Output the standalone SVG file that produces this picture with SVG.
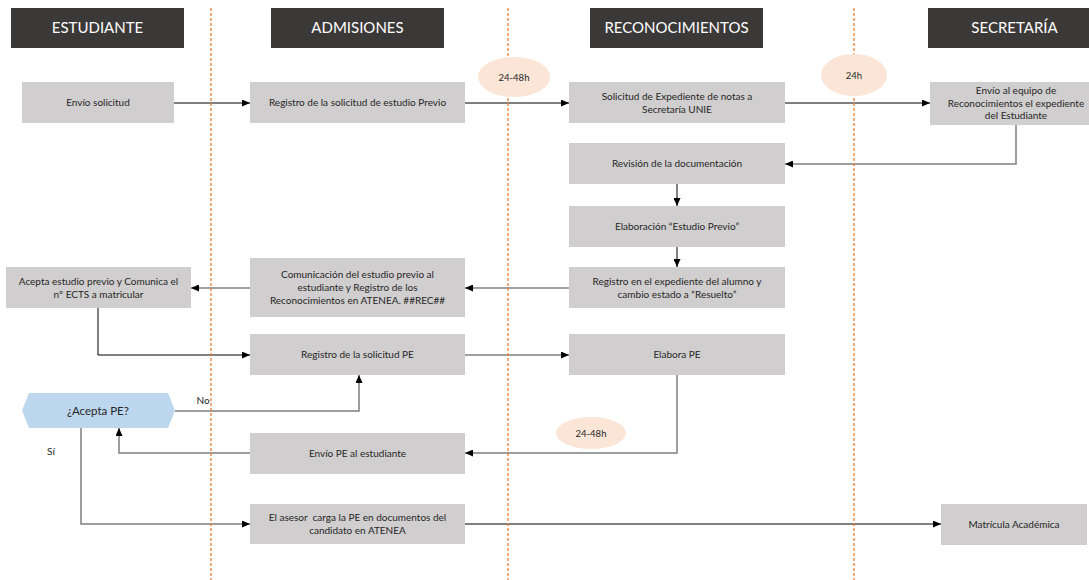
<svg xmlns="http://www.w3.org/2000/svg" width="1089" height="580" viewBox="0 0 1089 580">
  <style>
    .hdr { fill: #3b3838; }
    .hdr-t { font-family: Lato, "Liberation Sans", sans-serif; font-size: 15px; fill: #ffffff; text-anchor: middle; }
    .box { fill: #d0cece; }
    .t { font-family: Lato, "Liberation Sans", sans-serif; font-size: 10px; fill: #262626; text-anchor: middle; white-space: pre; }
    .dec { fill: #bdd7ee; }
    .dec-t { font-family: Lato, "Liberation Sans", sans-serif; font-size: 11.5px; fill: #262626; text-anchor: middle; }
    .time { fill: #fbe5d6; }
    .time-t { font-family: Lato, "Liberation Sans", sans-serif; font-size: 9.5px; fill: #262626; text-anchor: middle; }
    .lane { stroke: #ed7d31; stroke-width: 1.3; stroke-dasharray: 3 2; fill: none; }
    .c { fill: none; stroke: #000000; stroke-width: 1; marker-end: url(#arrow); }
    .g { fill: none; stroke: #7f7f7f; stroke-width: 1.5; marker-end: url(#arrow); }
    .lbl { font-family: Lato, "Liberation Sans", sans-serif; font-size: 10px; fill: #262626; text-anchor: middle; }
  </style>
  <defs>
    <marker id="arrow" markerUnits="userSpaceOnUse" markerWidth="8" markerHeight="7" refX="8" refY="3.5" orient="auto">
      <path d="M0,0 L8,3.5 L0,7 z" fill="#000000"/>
    </marker>
  </defs>

  <rect width="1089" height="580" fill="#ffffff"/>

  <!-- lane headers -->
  <g id="lane-headers">
    <g id="h-estudiante"><rect class="hdr" x="11" y="8" width="173" height="40"/><text class="hdr-t" x="97.5" y="33">ESTUDIANTE</text></g>
    <g id="h-admisiones"><rect class="hdr" x="271" y="8" width="173" height="40"/><text class="hdr-t" x="357.5" y="33">ADMISIONES</text></g>
    <g id="h-reconocimientos"><rect class="hdr" x="590" y="8" width="173" height="40"/><text class="hdr-t" x="676.5" y="33">RECONOCIMIENTOS</text></g>
    <g id="h-secretaria"><rect class="hdr" x="928" y="8" width="173" height="40"/><text class="hdr-t" x="1014.5" y="33">SECRETARÍA</text></g>
  </g>

  <!-- connectors -->
  <g id="connectors">
    <path class="c" d="M174,103 H250"/>
    <path class="c" d="M465,103 H569"/>
    <path class="c" d="M785,103 H930"/>
    <path class="g" d="M1016,125 V164 H785"/>
    <path class="c" d="M677,184 V206"/>
    <path class="c" d="M677,247 V267"/>
    <path class="g" d="M569,288 H465"/>
    <path class="g" d="M250,288 H191"/>
    <path class="c" d="M98,308 V355 H250"/>
    <path class="g" d="M465,355 H569"/>
    <path class="g" d="M677,375 V453 H465"/>
    <path class="g" d="M250,453 H119 V428"/>
    <path class="g" d="M175,411 H359 V375"/>
    <path class="g" d="M81,428 V524 H250"/>
    <path class="c" d="M465,524 H941"/>
    <text class="lbl" x="203" y="404">No</text>
    <text class="lbl" x="51" y="455">Sí</text>
  </g>

  <!-- lane separators -->
  <g id="lanes">
    <line class="lane" x1="211" y1="8" x2="211" y2="580"/>
    <line class="lane" x1="508" y1="8" x2="508" y2="580"/>
    <line class="lane" x1="854" y1="8" x2="854" y2="580"/>
  </g>

  <!-- time badges -->
  <g id="t1"><ellipse class="time" cx="514" cy="77" rx="36" ry="20"/><text class="time-t" x="514" y="80.5">24-48h</text></g>
  <g id="t2"><ellipse class="time" cx="854" cy="75" rx="33" ry="21"/><text class="time-t" x="854" y="78.5">24h</text></g>
  <g id="t3"><ellipse class="time" cx="591" cy="433" rx="35" ry="16"/><text class="time-t" x="591" y="436.5">24-48h</text></g>

  <!-- process steps -->
  <g id="n-envio-solicitud"><rect class="box" x="22" y="82" width="152" height="41"/><text class="t" x="98" y="106">Envío solicitud</text></g>
  <g id="n-registro-previo"><rect class="box" x="250" y="82" width="215" height="41"/><text class="t" x="357.5" y="106">Registro de la solicitud de estudio Previo</text></g>
  <g id="n-solicitud-expediente"><rect class="box" x="569" y="82" width="216" height="41"/><text class="t" x="677" y="100">Solicitud de Expediente de notas a</text><text class="t" x="677" y="113">Secretaría UNIE</text></g>
  <g id="n-envio-equipo"><rect class="box" x="930" y="82" width="172" height="43"/><text class="t" x="1016" y="94">Envío al equipo de</text><text class="t" x="1016" y="106.5">Reconocimientos el expediente</text><text class="t" x="1016" y="119">del Estudiante</text></g>
  <g id="n-revision"><rect class="box" x="569" y="143" width="216" height="41"/><text class="t" x="677" y="167">Revisión de la documentación</text></g>
  <g id="n-elaboracion"><rect class="box" x="569" y="206" width="216" height="41"/><text class="t" x="677" y="230">Elaboración “Estudio Previo”</text></g>
  <g id="n-registro-expediente"><rect class="box" x="569" y="267" width="216" height="41"/><text class="t" x="677" y="285">Registro en el expediente del alumno y</text><text class="t" x="677" y="298">cambio estado a “Resuelto”</text></g>
  <g id="n-comunicacion"><rect class="box" x="250" y="258" width="215" height="59"/><text class="t" x="357.5" y="278">Comunicación del estudio previo al</text><text class="t" x="357.5" y="291">estudiante y Registro de los</text><text class="t" x="357.5" y="304">Reconocimientos en ATENEA. ##REC##</text></g>
  <g id="n-acepta-estudio"><rect class="box" x="6" y="267" width="185" height="41"/><text class="t" x="98.5" y="285">Acepta estudio previo y Comunica el</text><text class="t" x="98.5" y="298">nº ECTS a matricular</text></g>
  <g id="n-registro-pe"><rect class="box" x="250" y="334" width="215" height="41"/><text class="t" x="357.5" y="358">Registro de la solicitud PE</text></g>
  <g id="n-elabora-pe"><rect class="box" x="569" y="334" width="216" height="41"/><text class="t" x="677" y="358">Elabora PE</text></g>
  <g id="n-acepta-pe"><polygon class="dec" points="22,410.5 29,393 168,393 175,410.5 168,428 29,428"/><text class="dec-t" x="98" y="414.5">¿Acepta PE?</text></g>
  <g id="n-envio-pe"><rect class="box" x="250" y="433" width="215" height="41"/><text class="t" x="357.5" y="457">Envío PE al estudiante</text></g>
  <g id="n-asesor"><rect class="box" x="250" y="504" width="215" height="40"/><text class="t" x="357.5" y="521">El asesor  carga la PE en documentos del</text><text class="t" x="357.5" y="534">candidato en ATENEA</text></g>
  <g id="n-matricula"><rect class="box" x="941" y="504" width="146" height="41"/><text class="t" x="1014" y="528">Matrícula Académica</text></g>
</svg>
